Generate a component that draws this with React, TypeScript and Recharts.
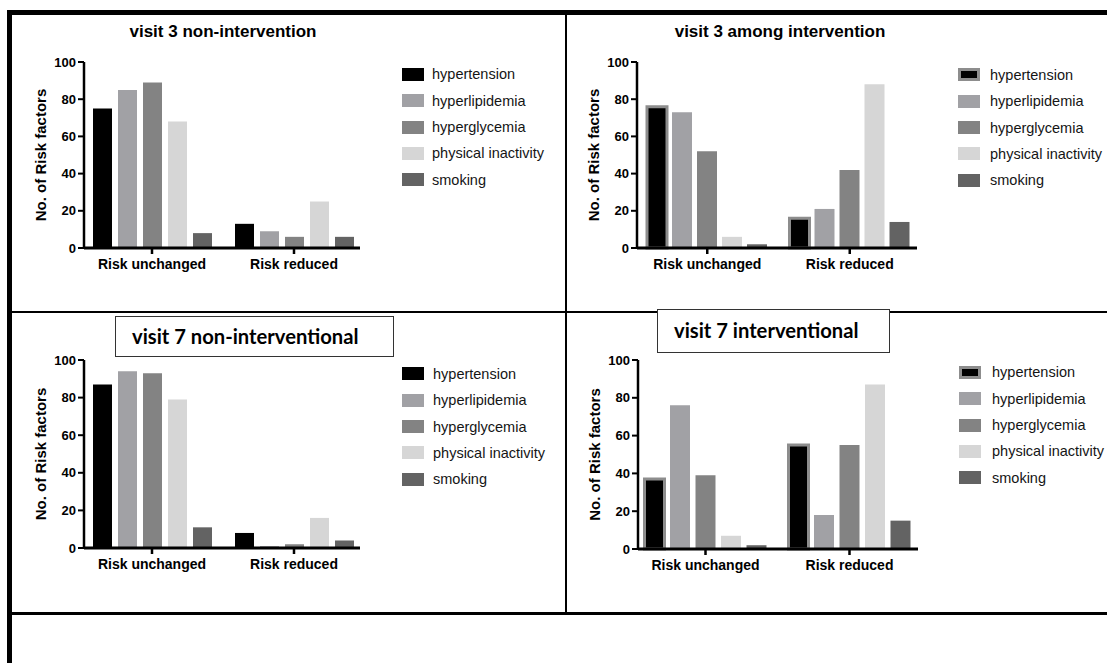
import React from 'react';
import { BarChart, Bar, XAxis, YAxis, Legend, Label } from 'recharts';

const FONT = '"Liberation Sans", Arial, Helvetica, sans-serif';
const BOX_FONT = 'Lato, "Open Sans", sans-serif';

const categories = ['Risk unchanged', 'Risk reduced'];
const seriesNames = ['hypertension', 'hyperlipidemia', 'hyperglycemia', 'physical inactivity', 'smoking'];
const seriesColors = ['#000000', '#a1a1a5', '#838383', '#d6d6d6', '#636363'];
const yTicks = [0, 20, 40, 60, 80, 100];

// visit 3, non-intervention group
const v3NonHypertension = [75, 13];
const v3NonHyperlipidemia = [85, 9];
const v3NonHyperglycemia = [89, 6];
const v3NonInactivity = [68, 25];
const v3NonSmoking = [8, 6];

// visit 3, intervention group
const v3IntHypertension = [76, 16];
const v3IntHyperlipidemia = [73, 21];
const v3IntHyperglycemia = [52, 42];
const v3IntInactivity = [6, 88];
const v3IntSmoking = [2, 14];

// visit 7, non-interventional group
const v7NonHypertension = [87, 8];
const v7NonHyperlipidemia = [94, 1];
const v7NonHyperglycemia = [93, 2];
const v7NonInactivity = [79, 16];
const v7NonSmoking = [11, 4];

// visit 7, interventional group
const v7IntHypertension = [37, 55];
const v7IntHyperlipidemia = [76, 18];
const v7IntHyperglycemia = [39, 55];
const v7IntInactivity = [7, 87];
const v7IntSmoking = [2, 15];

const buildRows = (series: number[][]) =>
  categories.map((category, i) => {
    const row: Record<string, string | number> = { category };
    series.forEach((values, s) => {
      row[`s${s}`] = values[i];
    });
    return row;
  });

const v3NonRows = buildRows([v3NonHypertension, v3NonHyperlipidemia, v3NonHyperglycemia, v3NonInactivity, v3NonSmoking]);
const v3IntRows = buildRows([v3IntHypertension, v3IntHyperlipidemia, v3IntHyperglycemia, v3IntInactivity, v3IntSmoking]);
const v7NonRows = buildRows([v7NonHypertension, v7NonHyperlipidemia, v7NonHyperglycemia, v7NonInactivity, v7NonSmoking]);
const v7IntRows = buildRows([v7IntHypertension, v7IntHyperlipidemia, v7IntHyperglycemia, v7IntInactivity, v7IntSmoking]);

const OUTLINE = '#8d8d8d';
const ROW_H = 26.3;

interface PanelProps {
  rows: Record<string, string | number>[];
  x0: number;
  x1: number;
  yTop: number;
  yBase: number;
  padLeft: number;
  padRight: number;
  barSize: number;
  barGap: number;
  legendX: number;
  legendTextX: number;
  legendY: number;
  outlined?: boolean;
}

const renderYLabel = (props: any) => {
  const vb = props.viewBox;
  const cx = vb.x + vb.width - 44;
  const cy = vb.y + vb.height / 2;
  return (
    <text
      x={cx}
      y={cy}
      transform={`rotate(-90, ${cx}, ${cy})`}
      textAnchor="middle"
      dominantBaseline="central"
      fontFamily={FONT}
      fontWeight={700}
      fontSize={15}
      fill="#000"
    >
      No. of Risk factors
    </text>
  );
};

const RiskPanel: React.FC<PanelProps> = (p) => {
  const left = p.x0 - 70;
  const top = p.yTop - 10;
  const width = p.legendX + 190 - left;
  const height = p.yBase - top + 40;
  const marginRight = width - (p.x1 - left);

  const legendContent = () => (
    <div style={{ fontFamily: FONT }}>
      {seriesNames.map((name, i) => (
        <div key={name} style={{ display: 'flex', alignItems: 'center', height: ROW_H }}>
          <span
            style={{
              display: 'inline-block',
              width: 22,
              height: 13,
              boxSizing: 'border-box',
              background: seriesColors[i],
              border: p.outlined && i === 0 ? `3px solid ${OUTLINE}` : 'none',
              marginRight: p.legendTextX - p.legendX - 22,
            }}
          />
          <span style={{ fontSize: 14.5, color: '#151515', whiteSpace: 'nowrap' }}>{name}</span>
        </div>
      ))}
    </div>
  );

  return (
    <div style={{ position: 'absolute', left, top }}>
      <BarChart
        width={width}
        height={height}
        data={p.rows}
        margin={{ top: 10, left: 10, right: marginRight, bottom: 10 }}
        barSize={p.barSize}
        barGap={p.barGap}
      >
        <XAxis
          dataKey="category"
          height={30}
          interval={0}
          padding={{ left: p.padLeft, right: p.padRight }}
          axisLine={{ stroke: '#000', strokeWidth: 3 }}
          tickLine={{ stroke: '#000', strokeWidth: 2.5 }}
          tickSize={6}
          tickMargin={5}
          tick={{ fill: '#000', fontSize: 14, fontWeight: 700, fontFamily: FONT }}
        />
        <YAxis
          width={60}
          domain={[0, 100]}
          ticks={yTicks}
          interval={0}
          axisLine={{ stroke: '#000', strokeWidth: 2.5 }}
          tickLine={{ stroke: '#000', strokeWidth: 2 }}
          tickSize={6}
          tickMargin={2}
          tick={{ fill: '#000', fontSize: 13, fontWeight: 700, fontFamily: FONT }}
        >
          <Label content={renderYLabel} />
        </YAxis>
        <Legend
          layout="vertical"
          align="center"
          verticalAlign="middle"
          content={legendContent}
          wrapperStyle={{
            left: p.legendX - left,
            top: p.legendY - ROW_H / 2 - top,
            width: 190,
            height: ROW_H * 5,
          }}
        />
        {seriesNames.map((name, i) => (
          <Bar
            key={name}
            dataKey={`s${i}`}
            name={name}
            fill={seriesColors[i]}
            stroke={p.outlined && i === 0 ? OUTLINE : undefined}
            strokeWidth={p.outlined && i === 0 ? 3 : 0}
            isAnimationActive={false}
          />
        ))}
      </BarChart>
    </div>
  );
};

const line = (left: number, top: number, width: number, height: number): React.CSSProperties => ({
  position: 'absolute',
  left,
  top,
  width,
  height,
  background: '#000',
});

const plainTitle = (cx: number, cy: number): React.CSSProperties => ({
  position: 'absolute',
  left: cx - 160,
  top: cy - 11,
  width: 320,
  lineHeight: '22px',
  textAlign: 'center',
  fontFamily: FONT,
  fontWeight: 700,
  fontSize: 17,
  color: '#000',
});

const boxedTitle = (left: number, top: number, width: number, height: number): React.CSSProperties => ({
  position: 'absolute',
  left,
  top,
  width,
  height,
  boxSizing: 'border-box',
  border: '1px solid #333',
  background: '#fff',
  paddingLeft: 16,
  lineHeight: `${height - 3}px`,
  fontFamily: BOX_FONT,
  fontWeight: 700,
  fontSize: 20.2,
  color: '#000',
  whiteSpace: 'nowrap',
});

export default function App() {
  return (
    <div
      style={{
        position: 'fixed',
        left: 0,
        top: 0,
        width: 1107,
        height: 663,
        background: '#fff',
        overflow: 'hidden',
      }}
    >
      {/* table frame */}
      <div style={line(7, 10, 1100, 5)} />
      <div style={line(7, 10, 5, 653)} />
      <div style={line(565, 14, 2, 599)} />
      <div style={line(12, 311, 1095, 2)} />
      <div style={line(12, 612, 1095, 3)} />

      <RiskPanel
        rows={v3NonRows}
        x0={84}
        x1={360}
        yTop={62}
        yBase={248}
        padLeft={-3}
        padRight={-5}
        barSize={19}
        barGap={6}
        legendX={402}
        legendTextX={432}
        legendY={74.5}
      />
      <RiskPanel
        rows={v3IntRows}
        x0={637}
        x1={917}
        yTop={62}
        yBase={248}
        padLeft={-1}
        padRight={-4}
        barSize={20}
        barGap={5}
        legendX={958}
        legendTextX={990}
        legendY={75}
        outlined
      />
      <RiskPanel
        rows={v7NonRows}
        x0={84}
        x1={360}
        yTop={360}
        yBase={548}
        padLeft={-3}
        padRight={-5}
        barSize={19}
        barGap={6}
        legendX={402}
        legendTextX={433}
        legendY={374}
      />
      <RiskPanel
        rows={v7IntRows}
        x0={638}
        x1={918}
        yTop={360}
        yBase={549}
        padLeft={-4.5}
        padRight={-3.5}
        barSize={20}
        barGap={5.5}
        legendX={959}
        legendTextX={992}
        legendY={372.5}
        outlined
      />

      <div style={plainTitle(223, 32)}>visit 3 non-intervention</div>
      <div style={plainTitle(780, 32)}>visit 3 among intervention</div>
      <div style={boxedTitle(115, 316, 279, 41)}>visit 7 non-interventional</div>
      <div style={boxedTitle(657, 309, 233, 44)}>visit 7 interventional</div>
    </div>
  );
}
